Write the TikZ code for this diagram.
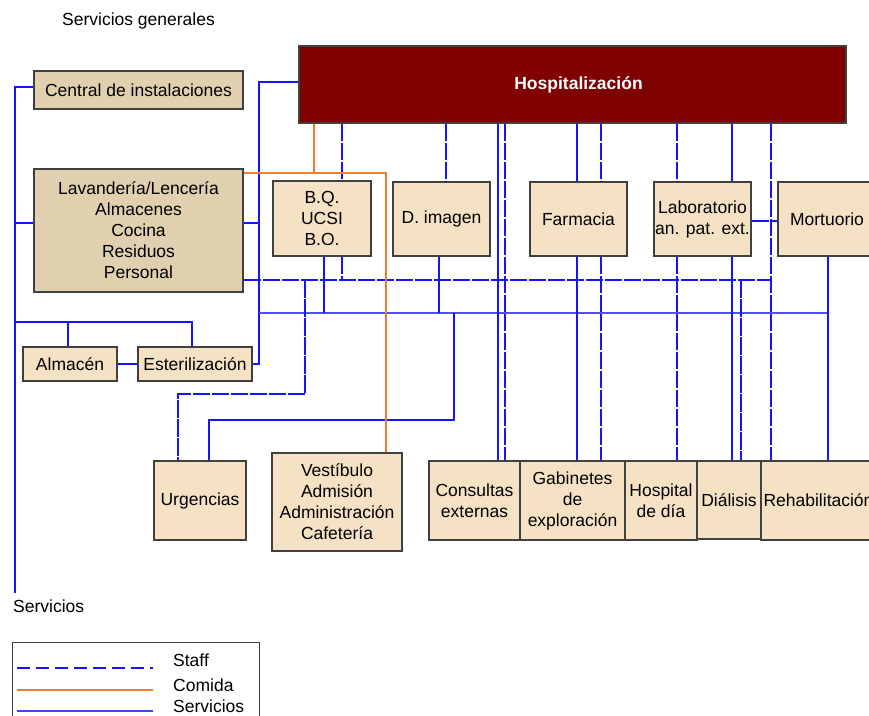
\documentclass[tikz,border=0pt]{standalone}
\usepackage{fontspec}
\setmainfont{Liberation Sans}
\definecolor{lightbox}{RGB}{245,225,195}
\definecolor{tanbox}{RGB}{224,208,175}
\definecolor{hospred}{RGB}{128,0,0}
\definecolor{servblue}{RGB}{20,20,255}
\definecolor{foodorange}{RGB}{237,125,49}
\begin{document}
\begin{tikzpicture}[x=1pt,y=-1pt,
  every node/.style={font=\fontsize{17.5}{21}\selectfont},
  box/.style={draw=black!75, line width=1.5pt, fill=lightbox, align=center, inner sep=0pt},
  tanbx/.style={box, fill=tanbox},
  serv/.style={draw=servblue, line width=1.8pt},
  staff/.style={draw=servblue, line width=1.8pt, dash pattern=on 17.5pt off 1.5pt},
  food/.style={draw=foodorange, line width=1.8pt},
  lbl/.style={inner sep=0pt, anchor=west}]
\useasboundingbox (0,0) rectangle (869,715);
\clip (0,0) rectangle (869,715);

% boxes
\node[box, fill=hospred, text=white, font=\fontsize{17.5}{21}\selectfont\bfseries,
      minimum width=547pt, minimum height=77pt] (hosp) at (572.5,84.5) {\hspace{12pt}\raisebox{3pt}{Hospitalización}};
\node[tanbx, minimum width=209pt, minimum height=38pt] (central) at (138.5,90) {Central de instalaciones};
\node[tanbx, minimum width=209pt, minimum height=123pt] (lav) at (138.5,230.5)
  {Lavandería/Lencería\\Almacenes\\Cocina\\Residuos\\Personal};
\node[box, minimum width=94pt, minimum height=34pt] (almacen) at (70,364) {Almacén};
\node[box, minimum width=114pt, minimum height=34pt] (ester) at (195,364) {Esterilización};
\node[box, minimum width=98pt, minimum height=75pt] (bq) at (322,218.5) {B.Q.\\UCSI\\B.O.};
\node[box, minimum width=97pt, minimum height=74pt] (dimg) at (441.5,219) {D. imagen};
\node[box, minimum width=97pt, minimum height=74pt] (farm) at (578.5,219) {Farmacia};
\node[box, minimum width=97pt, minimum height=74pt] (lab) at (702.5,219) {Laboratorio\\an. pat. ext.};
\node[box, minimum width=98pt, minimum height=74pt] (mort) at (827,219) {Mortuorio};
\node[box, minimum width=92pt, minimum height=79pt] (urg) at (200,500.5) {Urgencias};
\node[box, minimum width=130pt, minimum height=98pt] (vest) at (337,502)
  {Vestíbulo\\Admisión\\Administración\\Cafetería};
\node[box, minimum width=91pt, minimum height=79pt] (cons) at (474.5,500.5) {Consultas\\externas};
\node[box, minimum width=105pt, minimum height=79pt] (gab) at (572.5,500.5) {Gabinetes\\de\\exploración};
\node[box, minimum width=72pt, minimum height=79pt] (hdia) at (661,500.5) {Hospital\\de día};
\node[box, minimum width=64pt, minimum height=78pt] (dial) at (729,500) {Diálisis};
\node[box, minimum width=115pt, minimum height=79pt] (rehab) at (818.5,500.5) {Rehabilitación};

% free texts
\node[inner sep=0pt] (tsg) at (138.5,21) {Servicios generales};
\node[lbl] (tserv) at (13,606) {Servicios};

% column and row positions of the connector runs
\coordinate (cTrunk) at (15,0);
\coordinate (cBus) at (259,0);
\coordinate (cFood) at (314,0);
\coordinate (cFoodV) at (386,0);
\coordinate (cBQs) at (324,0);
\coordinate (cBQ) at (342,0);
\coordinate (cUrgSt) at (305,0);
\coordinate (cUrgStB) at (178,0);
\coordinate (cUrgSv) at (209,0);
\coordinate (cUrgSvR) at (454,0);
\coordinate (cImgT) at (446,0);
\coordinate (cImgB) at (439,0);
\coordinate (cCons) at (498,0);
\coordinate (cConsSt) at (505,0);
\coordinate (cFarm) at (577,0);
\coordinate (cFarmSt) at (601,0);
\coordinate (cLabSt) at (677,0);
\coordinate (cLab) at (732,0);
\coordinate (cDialSt) at (741,0);
\coordinate (cRehSt) at (771,0);
\coordinate (cMort) at (828,0);
\coordinate (cAlm) at (68,0);
\coordinate (cEst) at (192,0);
\coordinate (rHosp) at (0,82);
\coordinate (rCen) at (0,87);
\coordinate (rFood) at (0,173);
\coordinate (rLab) at (0,221);
\coordinate (rLav) at (0,223);
\coordinate (rStaff) at (0,280);
\coordinate (rServ) at (0,313);
\coordinate (rAlm) at (0,322);
\coordinate (rUrgSt) at (0,394);
\coordinate (rUrg) at (0,420);
\coordinate (rEnd) at (0,593);

% servicios
\draw[serv, line width=1.4pt] (cTrunk |- rEnd) -- (cTrunk |- rCen) -- (central.west |- rCen);
\draw[serv, line width=1.4pt] (cTrunk |- rLav) -- (lav.west |- rLav);
\draw[serv, line width=1.4pt] (cTrunk |- rAlm) -- (cEst |- rAlm) -- (ester.north -| cEst);
\draw[serv, line width=1.4pt] (cAlm |- rAlm) -- (almacen.north -| cAlm);
\draw[serv, line width=1.4pt] (almacen.east) -- (ester.west);
\draw[serv] (ester.east) -- (cBus |- ester.east) -- (cBus |- rHosp) -- (hosp.west |- rHosp);
\draw[serv] (lav.east |- rLav) -- (cBus |- rLav);
\draw[serv, draw=servblue!75] (cBus |- rServ) -- (cMort |- rServ);
\draw[serv] (mort.south -| cMort) -- (rehab.north -| cMort);
\draw[serv] (bq.south -| cBQs) -- (cBQs |- rServ);
\draw[serv] (dimg.south -| cImgB) -- (cImgB |- rServ);
\draw[serv] (urg.north -| cUrgSv) -- (cUrgSv |- rUrg) -- (cUrgSvR |- rUrg) -- (cUrgSvR |- rServ);
\draw[serv] (hosp.south -| cCons) -- (cons.north -| cCons);
\draw[serv] (hosp.south -| cFarm) -- (farm.north -| cFarm);
\draw[serv] (farm.south -| cFarm) -- (gab.north -| cFarm);
\draw[serv] (hosp.south -| cLab) -- (lab.north -| cLab);
\draw[serv] (lab.south -| cLab) -- (dial.north -| cLab);

% staff
\draw[staff] (lav.east |- rStaff) -- (cRehSt |- rStaff);
\draw[staff] (hosp.south -| cBQ) -- (bq.north -| cBQ);
\draw[staff] (bq.south -| cBQ) -- (cBQ |- rStaff);
\draw[staff] (hosp.south -| cImgT) -- (dimg.north -| cImgT);
\draw[staff] (hosp.south -| cConsSt) -- (cons.north -| cConsSt);
\draw[staff] (hosp.south -| cFarmSt) -- (farm.north -| cFarmSt);
\draw[staff] (farm.south -| cFarmSt) -- (gab.north -| cFarmSt);
\draw[staff] (hosp.south -| cLabSt) -- (lab.north -| cLabSt);
\draw[staff] (lab.south -| cLabSt) -- (hdia.north -| cLabSt);
\draw[staff] (hosp.south -| cRehSt) -- (rehab.north -| cRehSt);
\draw[staff] (cDialSt |- rStaff) -- (dial.north -| cDialSt);
\draw[staff] (lab.east |- rLab) -- (mort.west |- rLab);
\draw[staff] (cUrgSt |- rStaff) -- (cUrgSt |- rUrgSt) -- (cUrgStB |- rUrgSt) -- (urg.north -| cUrgStB);

% comida
\draw[food] (lav.east |- rFood) -- (cFoodV |- rFood) -- (vest.north -| cFoodV);
\draw[food] (hosp.south -| cFood) -- (cFood |- rFood);

% legend
\node[draw=black!75, line width=1.3pt, minimum width=247pt, minimum height=80pt,
      inner sep=0pt, anchor=north west] (legend) at (12,642) {};
\draw[draw=servblue, line width=1.5pt, dash pattern=on 13pt off 6pt]
  ([xshift=5pt,yshift=-26pt]legend.north west) coordinate (ls) -- ++(136,0);
\draw[food, line width=1.5pt] ([xshift=5pt,yshift=-48pt]legend.north west) coordinate (lf) -- ++(136,0);
\draw[serv, draw=servblue!80, line width=1.5pt] ([xshift=5pt,yshift=-69pt]legend.north west) coordinate (lv) -- ++(136,0);
\node[lbl] (lstaff) at ([xshift=161pt,yshift=-18pt]legend.north west) {Staff};
\node[lbl] (lcomida) at ([xshift=161pt,yshift=-43pt]legend.north west) {Comida};
\node[lbl] (lserv) at ([xshift=161pt,yshift=-64pt]legend.north west) {Servicios};
\end{tikzpicture}
\end{document}
